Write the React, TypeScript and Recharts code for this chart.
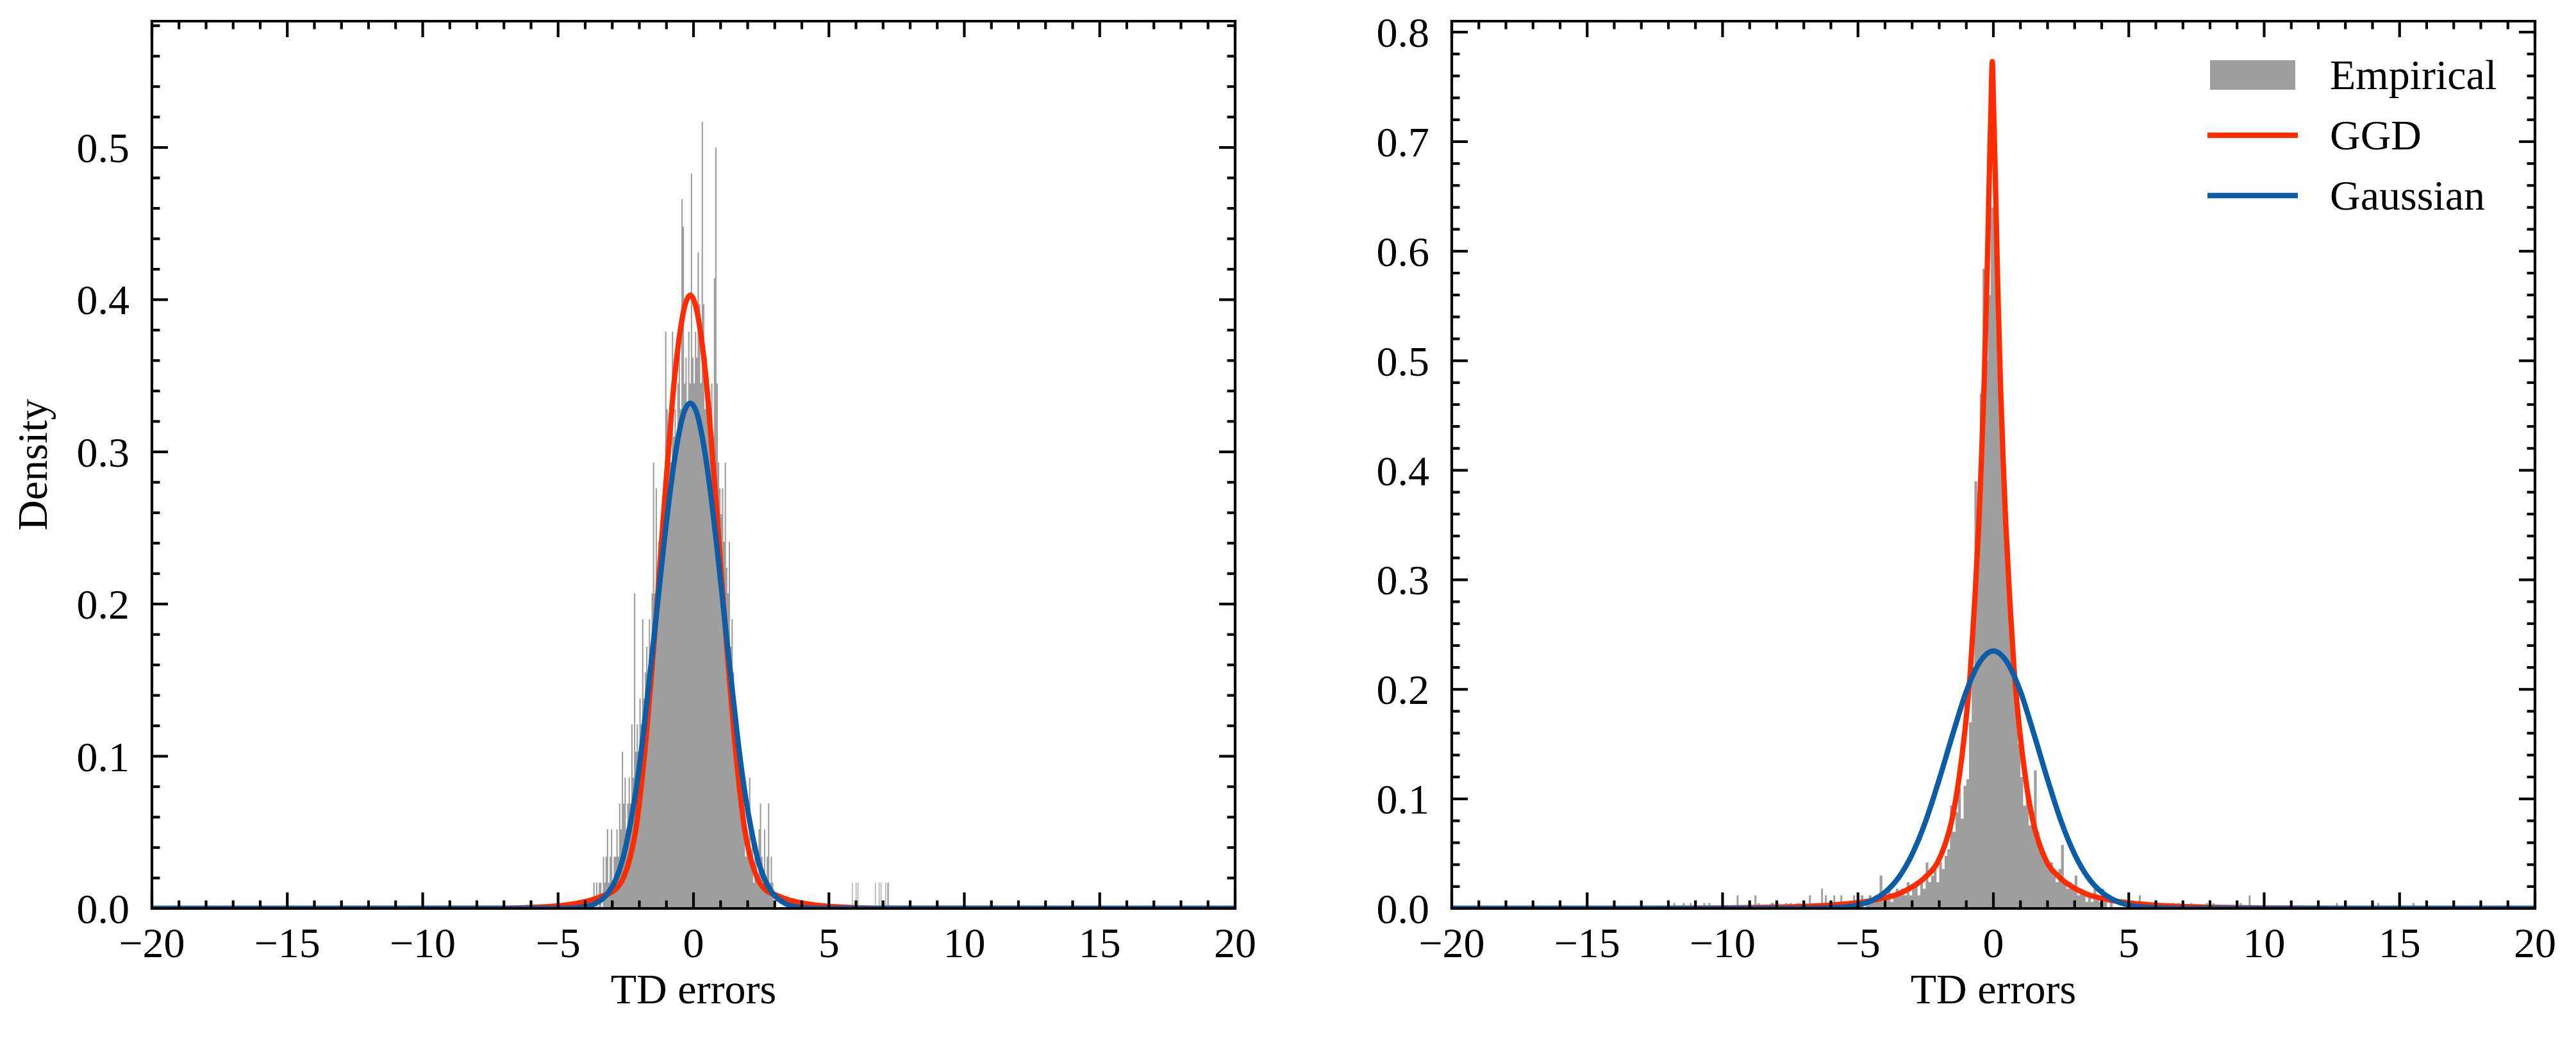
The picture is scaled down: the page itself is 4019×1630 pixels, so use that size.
import { ComposedChart, Area, Line, XAxis, YAxis, Legend } from "recharts";

const SERIF = '"Liberation Serif", "Times New Roman", Times, serif';
const INK = "#000000";
const GREY = "#9e9e9e";
const RED = "#ff2c00";
const BLUE = "#0c5da5";

// ---- tick labels ----
const xMajorTicks = [-20, -15, -10, -5, 0, 5, 10, 15, 20];
const leftYMajorTicks = [0, 0.1, 0.2, 0.3, 0.4, 0.5];
const rightYMajorTicks = [0, 0.1, 0.2, 0.3, 0.4, 0.5, 0.6, 0.7, 0.8];

// ---- left panel: empirical histogram (bin heights) ----
const leftHistStart = -3.75;
const leftHistBin = 0.05;
const leftHistHeights = [
  0, 0.017, 0, 0.017, 0, 0.017, 0.017, 0, 0.034, 0.017,
  0.034, 0.052, 0.017, 0.034, 0.052, 0.017, 0.034, 0.034, 0.052, 0.034,
  0.069, 0.052, 0.103, 0.069, 0.086, 0.052, 0.069, 0.086, 0.069, 0.121,
  0.086, 0.207, 0.103, 0.121, 0.103, 0.138, 0.121, 0.19, 0.138, 0.155,
  0.172, 0.155, 0.19, 0.172, 0.207, 0.293, 0.207, 0.276, 0.224, 0.241,
  0.224, 0.259, 0.241, 0.276, 0.379, 0.328, 0.276, 0.31, 0.293, 0.379,
  0.31, 0.328, 0.31, 0.345, 0.379, 0.328, 0.466, 0.448, 0.345, 0.362,
  0.328, 0.379, 0.345, 0.483, 0.362, 0.345, 0.379, 0.362, 0.431, 0.397,
  0.345, 0.517, 0.397, 0.328, 0.362, 0.345, 0.31, 0.328, 0.345, 0.31,
  0.414, 0.5, 0.345, 0.293, 0.276, 0.259, 0.276, 0.241, 0.293, 0.224,
  0.207, 0.241, 0.172, 0.19, 0.155, 0.138, 0.121, 0.103, 0.086, 0.069,
  0.069, 0.052, 0.052, 0.034, 0.052, 0.034, 0.086, 0.034, 0.052, 0.017,
  0.034, 0.034, 0.017, 0.052, 0.069, 0.034, 0.017, 0.052, 0.017, 0.034,
  0.069, 0.017, 0.034, 0.017,
];
const leftTailX = [5.85, 5.99, 6.06, 6.7, 6.84, 6.91, 7.08, 7.15, 7.19];
const leftTailH = [0.017, 0.017, 0.017, 0.017, 0.017, 0.017, 0.017, 0.017, 0.017];

// ---- left panel: fitted curves ----
const leftGgdX = [-20, -7.12, -6.12, -5.12, -4.62, -4.12, -3.72, -3.32, -2.92, -2.62, -2.32, -2.12, -1.92, -1.72, -1.52, -1.32, -1.12, -0.92, -0.72, -0.52, -0.32, -0.12, 0.08, 0.28, 0.48, 0.68, 0.88, 1.08, 1.28, 1.48, 1.68, 1.88, 2.08, 2.38, 2.68, 3.08, 3.48, 3.88, 4.38, 4.88, 5.88, 6.88, 20];
const leftGgdY = [0, 0.0002, 0.0006, 0.0015, 0.0025, 0.004, 0.0058, 0.0085, 0.012, 0.019, 0.035, 0.053, 0.082, 0.118, 0.16, 0.206, 0.256, 0.302, 0.345, 0.376, 0.396, 0.403, 0.396, 0.376, 0.345, 0.302, 0.256, 0.206, 0.16, 0.118, 0.082, 0.053, 0.035, 0.019, 0.012, 0.0085, 0.0058, 0.004, 0.0025, 0.0015, 0.0006, 0.0002, 0];
const leftGaussX = [-20, -5.12, -4.62, -4.12, -3.62, -3.12, -2.87, -2.62, -2.37, -2.12, -1.87, -1.62, -1.37, -1.12, -0.87, -0.62, -0.37, -0.12, 0.13, 0.38, 0.63, 0.88, 1.13, 1.38, 1.63, 1.88, 2.13, 2.38, 2.63, 2.88, 3.38, 3.88, 4.38, 4.88, 20];
const leftGaussY = [0, 0, 0.0002, 0.0008, 0.0033, 0.011, 0.019, 0.032, 0.052, 0.078, 0.112, 0.152, 0.193, 0.235, 0.273, 0.304, 0.325, 0.332, 0.325, 0.304, 0.273, 0.235, 0.193, 0.152, 0.112, 0.078, 0.052, 0.032, 0.019, 0.011, 0.0033, 0.0008, 0.0002, 0, 0];

// ---- right panel: empirical histogram ----
const rightHistStart = -5.0;
const rightHistBin = 0.1;
const rightHistHeights = [
  0.006, 0.012, 0, 0.006, 0.012, 0.006, 0.012, 0.006, 0.03, 0.006,
  0.012, 0.018, 0.006, 0.012, 0.018, 0.012, 0.018, 0.012, 0.024, 0.012,
  0.018, 0.024, 0.012, 0.024, 0.018, 0.042, 0.024, 0.03, 0.036, 0.024,
  0.042, 0.036, 0.048, 0.054, 0.094, 0.07, 0.088, 0.11, 0.082, 0.112,
  0.118, 0.17, 0.22, 0.39, 0.34, 0.47, 0.584, 0.5, 0.56, 0.64,
  0.66, 0.533, 0.5, 0.43, 0.35, 0.33, 0.28, 0.23, 0.2, 0.15,
  0.12, 0.094, 0.106, 0.076, 0.088, 0.126, 0.07, 0.058, 0.048, 0.042,
  0.036, 0.042, 0.03, 0.024, 0.036, 0.058, 0.024, 0.018, 0.024, 0.018,
  0.03, 0.012, 0.018, 0.012, 0.006, 0.012, 0.006, 0.018, 0.012, 0.006,
  0.018, 0.006, 0, 0.006, 0,
];
const rightTailX = [-11.82, -11.47, -11.21, -10.71, -10.52, -9.48, -8.82, -8.7, -8.23, -8.16, -7.97, -7.68, -7.52, -7.28, -7.19, -6.81, -6.52, -6.36, -6.22, -6.1, -5.91, -5.65, -5.56, -5.18, 5.37, 5.56, 5.74, 5.84, 6.6, 6.81, 7.28, 7.85, 8.09, 8.96, 9.1, 9.43, 12.65, 14.18, 15.48];
const rightTailH = [0.005, 0.005, 0.005, 0.005, 0.005, 0.012, 0.012, 0.005, 0.005, 0.005, 0.005, 0.005, 0.005, 0.005, 0.005, 0.012, 0.005, 0.018, 0.012, 0.005, 0.012, 0.012, 0.005, 0.012, 0.012, 0.005, 0.005, 0.005, 0.005, 0.005, 0.005, 0.005, 0.005, 0.005, 0.005, 0.012, 0.005, 0.005, 0.005];

// ---- right panel: fitted curves ----
const rightGgdX = [-20, -13.04, -10.04, -8.04, -7.04, -6.04, -5.04, -4.54, -4.04, -3.54, -3.04, -2.54, -2.04, -1.79, -1.54, -1.29, -1.04, -0.84, -0.69, -0.54, -0.44, -0.34, -0.24, -0.19, -0.14, -0.09, -0.04, 0.01, 0.06, 0.11, 0.16, 0.26, 0.36, 0.46, 0.61, 0.76, 0.96, 1.21, 1.46, 1.71, 1.96, 2.46, 2.96, 3.46, 3.96, 4.46, 4.96, 5.96, 6.96, 7.96, 9.96, 12.96, 20];
const rightGgdY = [0, 0.0001, 0.0004, 0.0011, 0.0018, 0.003, 0.0052, 0.007, 0.0095, 0.013, 0.019, 0.028, 0.043, 0.058, 0.08, 0.115, 0.165, 0.22, 0.28, 0.35, 0.41, 0.48, 0.57, 0.625, 0.68, 0.73, 0.773, 0.73, 0.68, 0.625, 0.57, 0.48, 0.41, 0.35, 0.28, 0.22, 0.165, 0.115, 0.08, 0.058, 0.043, 0.028, 0.019, 0.013, 0.0095, 0.007, 0.0052, 0.003, 0.0018, 0.0011, 0.0004, 0.0001, 0];
const rightGaussX = [-20, -8, -7, -6, -5.5, -5, -4.5, -4, -3.5, -3, -2.5, -2, -1.5, -1, -0.5, 0, 0.5, 1, 1.5, 2, 2.5, 3, 3.5, 4, 4.5, 5, 5.5, 6, 7, 8, 20];
const rightGaussY = [0, 0, 0.0001, 0.0005, 0.0013, 0.0031, 0.0071, 0.0148, 0.0282, 0.0495, 0.0797, 0.1178, 0.159, 0.198, 0.225, 0.235, 0.225, 0.198, 0.159, 0.1178, 0.0797, 0.0495, 0.0282, 0.0148, 0.0071, 0.0031, 0.0013, 0.0005, 0.0001, 0, 0];

type Pt = { x: number; y: number };

const pairs = (xs: number[], ys: number[]): Pt[] => xs.map((x, i) => ({ x, y: ys[i] }));

// histogram as step outline: left bin edges + heights, tails as isolated narrow bins
function histSteps(start: number, bin: number, heights: number[], tailX: number[], tailH: number[], tailW: number): Pt[] {
  const pts: Pt[] = [{ x: -20, y: 0 }];
  const tails = tailX.map((x, i) => ({ x, h: tailH[i] }));
  tails.filter((t) => t.x < start).forEach((t) => {
    pts.push({ x: t.x, y: t.h });
    pts.push({ x: t.x + tailW, y: 0 });
  });
  heights.forEach((h, i) => pts.push({ x: start + i * bin, y: h }));
  pts.push({ x: start + heights.length * bin, y: 0 });
  tails.filter((t) => t.x > start).forEach((t) => {
    pts.push({ x: t.x, y: t.h });
    pts.push({ x: t.x + tailW, y: 0 });
  });
  pts.push({ x: 20, y: 0 });
  return pts;
}

const MAJOR_LEN = 25;
const MINOR_LEN = 12.5;
const TICK_W = 4.2;
const FONT_SIZE = 66;
const PLOT_RIGHT = 1927; // inside each panel's own svg

const isMajor = (v: number, majors: number[]) => majors.some((m) => Math.abs(m - v) < 1e-9);
const fmtX = (v: number) => (v < 0 ? "\u2212" + Math.abs(v) : String(v));

const xAllTicks = Array.from({ length: 41 }, (_, i) => i - 20);
const yAllTicks = (top: number) => Array.from({ length: Math.floor(top / 0.02 + 1e-6) + 1 }, (_, i) => Math.round(i * 2) / 100);

const BottomTick = (props: any) => {
  const { x, y, payload } = props;
  const major = isMajor(payload.value, xMajorTicks);
  return (
    <g>
      <line x1={x} x2={x} y1={y} y2={y - (major ? MAJOR_LEN : MINOR_LEN)} stroke={INK} strokeWidth={TICK_W} />
      {major && (
        <text x={x} y={y + 76} textAnchor="middle" fontFamily={SERIF} fontSize={FONT_SIZE} fill={INK}>
          {fmtX(payload.value)}
        </text>
      )}
    </g>
  );
};

const TopTick = (props: any) => {
  const { x, y, payload } = props;
  const major = isMajor(payload.value, xMajorTicks);
  return <line x1={x} x2={x} y1={y} y2={y + (major ? MAJOR_LEN : MINOR_LEN)} stroke={INK} strokeWidth={TICK_W} />;
};

const makeLeftTick = (majors: number[]) => (props: any) => {
  const { x, y, payload } = props;
  const major = isMajor(payload.value, majors);
  return (
    <g>
      <line x1={x} x2={x + (major ? MAJOR_LEN : MINOR_LEN)} y1={y} y2={y} stroke={INK} strokeWidth={TICK_W} />
      {major && (
        <text x={x - 35} y={y + 23} textAnchor="end" fontFamily={SERIF} fontSize={FONT_SIZE} fill={INK}>
          {payload.value.toFixed(1)}
        </text>
      )}
    </g>
  );
};

const makeRightTick = (majors: number[]) => (props: any) => {
  const { x, y, payload } = props;
  const major = isMajor(payload.value, majors);
  return <line x1={x} x2={x - (major ? MAJOR_LEN : MINOR_LEN)} y1={y} y2={y} stroke={INK} strokeWidth={TICK_W} />;
};

const spine = { stroke: INK, strokeWidth: TICK_W, strokeLinecap: "square" as const };

const LegendBox = (props: any) => {
  const payload = props.payload || [];
  return (
    <svg width={520} height={300} style={{ display: "block" }}>
      {payload.map((p: any, i: number) => {
        const cy = 57 + i * 94;
        return (
          <g key={p.value}>
            {p.type === "rect" ? (
              <rect x={4} y={cy - 23} width={133} height={46} fill={p.color} />
            ) : (
              <line x1={0} x2={141} y1={cy} y2={cy} stroke={p.color} strokeWidth={8.3} />
            )}
            <text x={191} y={cy + 22} fontFamily={SERIF} fontSize={FONT_SIZE} fill={INK}>
              {p.value}
            </text>
          </g>
        );
      })}
    </svg>
  );
};

type PanelProps = {
  width: number;
  hist: Pt[];
  ggd: Pt[];
  gauss: Pt[];
  yMax: number;
  yMajor: number[];
  yLabel?: string;
  legend?: boolean;
};

const Panel = ({ width, hist, ggd, gauss, yMax, yMajor, yLabel, legend }: PanelProps) => (
  <ComposedChart width={width} height={1630} margin={{ top: 32, right: width - PLOT_RIGHT - 1, bottom: 0, left: 0 }}>
    <XAxis
      xAxisId="b"
      type="number"
      dataKey="x"
      domain={[-20, 20]}
      allowDataOverflow
      ticks={xAllTicks}
      interval={0}
      tickSize={0}
      tickMargin={0}
      tickLine={false}
      tick={BottomTick}
      axisLine={spine}
      height={213}
      label={(p: any) => {
        const vb = p.viewBox || {};
        return (
          <text x={vb.x + vb.width / 2} y={vb.y + 148} textAnchor="middle" fontFamily={SERIF} fontSize={FONT_SIZE} fill={INK}>
            TD errors
          </text>
        );
      }}
    />
    <XAxis
      xAxisId="t"
      orientation="top"
      type="number"
      dataKey="x"
      domain={[-20, 20]}
      allowDataOverflow
      ticks={xAllTicks}
      interval={0}
      tickSize={0}
      tickMargin={0}
      tickLine={false}
      tick={TopTick}
      axisLine={spine}
      height={1}
    />
    <YAxis
      yAxisId="l"
      type="number"
      domain={[0, yMax]}
      allowDataOverflow
      ticks={yAllTicks(yMax)}
      interval={0}
      tickSize={0}
      tickMargin={0}
      tickLine={false}
      tick={makeLeftTick(yMajor)}
      axisLine={spine}
      width={237}
      label={
        yLabel
          ? (p: any) => {
              const vb = p.viewBox || {};
              const cy = vb.y + vb.height / 2;
              return (
                <text x={73} y={cy} transform={`rotate(-90 73 ${cy})`} textAnchor="middle" fontFamily={SERIF} fontSize={FONT_SIZE} fill={INK}>
                  {yLabel}
                </text>
              );
            }
          : undefined
      }
    />
    <YAxis
      yAxisId="r"
      orientation="right"
      type="number"
      domain={[0, yMax]}
      allowDataOverflow
      ticks={yAllTicks(yMax)}
      interval={0}
      tickSize={0}
      tickMargin={0}
      tickLine={false}
      tick={makeRightTick(yMajor)}
      axisLine={spine}
      width={1}
    />
    <Area
      xAxisId="b"
      yAxisId="l"
      data={hist}
      dataKey="y"
      name="Empirical"
      type="stepAfter"
      stroke="none"
      fill={GREY}
      fillOpacity={1}
      legendType="rect"
      isAnimationActive={false}
    />
    <Line
      xAxisId="t"
      yAxisId="r"
      data={ggd}
      dataKey="y"
      name="GGD"
      type="monotone"
      stroke={RED}
      strokeWidth={8.3}
      dot={false}
      legendType="line"
      isAnimationActive={false}
    />
    <Line
      xAxisId="b"
      yAxisId="l"
      data={gauss}
      dataKey="y"
      name="Gaussian"
      type="monotone"
      stroke={BLUE}
      strokeWidth={8.3}
      dot={false}
      legendType="line"
      isAnimationActive={false}
    />
    {legend && (
      <Legend
        layout="vertical"
        align="center"
        verticalAlign="middle"
        content={LegendBox}
        wrapperStyle={{ left: 1416, top: 60, width: 520, height: 300 }}
      />
    )}
  </ComposedChart>
);

export default function App() {
  const leftHist = histSteps(leftHistStart, leftHistBin, leftHistHeights, leftTailX, leftTailH, 0.03);
  const rightHist = histSteps(rightHistStart, rightHistBin, rightHistHeights, rightTailX, rightTailH, 0.07);
  return (
    <div style={{ position: "absolute", left: 0, top: 0, width: 4019, height: 1630, background: "#fff", overflow: "hidden" }}>
      <div style={{ position: "absolute", left: 0, top: 0 }}>
        <Panel
          width={1990}
          hist={leftHist}
          ggd={pairs(leftGgdX, leftGgdY)}
          gauss={pairs(leftGaussX, leftGaussY)}
          yMax={0.583}
          yMajor={leftYMajorTicks}
          yLabel="Density"
        />
      </div>
      <div style={{ position: "absolute", left: 2028, top: 0 }}>
        <Panel
          width={1992}
          hist={rightHist}
          ggd={pairs(rightGgdX, rightGgdY)}
          gauss={pairs(rightGaussX, rightGaussY)}
          yMax={0.81}
          yMajor={rightYMajorTicks}
          legend
        />
      </div>
    </div>
  );
}
